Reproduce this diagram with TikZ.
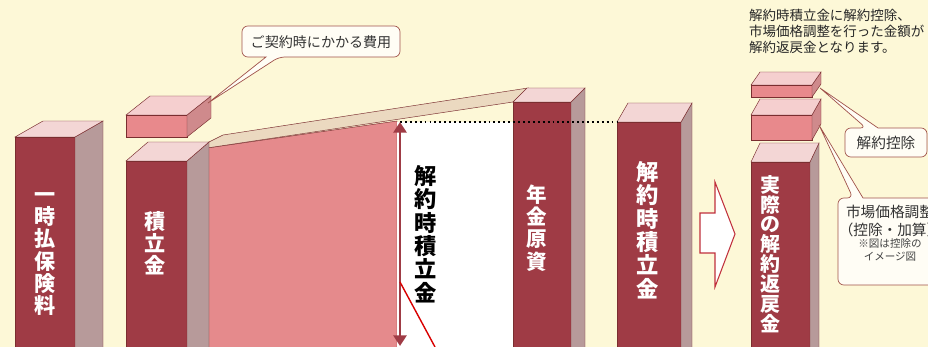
\documentclass[tikz,border=0pt]{standalone}
\usepackage{fontspec}
\setmainfont{Noto Sans CJK JP}
\usepackage{xcolor}
\usetikzlibrary{arrows.meta,positioning}
\definecolor{bgyellow}{RGB}{253,248,215}
\definecolor{darkred}{RGB}{159,59,69}
\definecolor{sidegray}{RGB}{183,154,154}
\definecolor{toppink}{RGB}{243,214,213}
\definecolor{edgebrown}{RGB}{122,46,48}
\definecolor{wedgepink}{RGB}{229,138,140}
\definecolor{bandtan}{RGB}{235,217,192}
\definecolor{blockpink}{RGB}{232,137,140}
\definecolor{blocktop}{RGB}{245,207,207}
\definecolor{blockside}{RGB}{207,138,140}
\definecolor{callbrown}{RGB}{160,82,74}
\definecolor{callfill}{RGB}{255,253,245}
\definecolor{arrowred}{RGB}{192,48,60}

\begin{document}
\begin{tikzpicture}[x=0.03cm,y=-0.03cm]
	\tikzstyle{edge}=[draw=edgebrown,line width=0.4pt]
	\tikzstyle{front}=[edge,fill=darkred]
	\tikzstyle{side}=[edge,fill=sidegray]
	\tikzstyle{topface}=[edge,fill=toppink]
	\tikzstyle{vlabel}=[align=center,inner sep=0pt,text=white]
	\tikzstyle{callout}=[draw=callbrown,fill=callfill,line width=0.6pt]
	
	\useasboundingbox (0,0) rectangle (928,347);
	\clip (0,0) rectangle (928,347);
	\fill[bgyellow] (0,0) rectangle (928,347);
	
	\filldraw[edge,fill=wedgepink] (187,160) -- (207,148) -- (397,121) -- (397,350) -- (187,350) -- cycle;
	\filldraw[edge,fill=bandtan] (187,160) -- (209,142) -- (223,135) -- (528,88) -- (513,102) -- (207,148) -- cycle;
	\fill[white] (397,122) rectangle (513,350);
	
	\foreach \px/\py/\w/\dx/\dy in {15/137/60/28/-16, 126/161/61/22/-19, 513/102/58/14/-14, 617/122/64/11/-19, 751/162/59/9/-19}{
		\filldraw[front] (\px,\py) rectangle (\px+\w,350);
		\filldraw[side] (\px+\w,\py) -- ++(\dx,\dy) -- (\px+\w+\dx,350) -- (\px+\w,350) -- cycle;
		\filldraw[topface] (\px,\py) -- ++(\dx,\dy) -- ++(\w,0) -- (\px+\w,\py) -- cycle;
	}
	
	\foreach \px/\py/\pb/\w/\dx/\dy in {126/115/137/61/24/-19, 751/85/97/61/9/-13, 751/115/140/61/9/-16}{
		\filldraw[edge,fill=blockpink] (\px,\py) rectangle (\px+\w,\pb);
		\filldraw[edge,fill=blockside] (\px+\w,\py) -- ++(\dx,\dy) -- (\px+\w+\dx,\pb+\dy) -- (\px+\w,\pb) -- cycle;
		\filldraw[edge,fill=blocktop] (\px,\py) -- ++(\dx,\dy) -- ++(\w,0) -- (\px+\w,\py) -- cycle;
	}
	
	\coordinate (lvl) at (400,122);
	\coordinate (lvlend) at (617,122);
	\coordinate (accbot) at (400,346);
	\draw[line width=1.5pt,dash pattern=on 1.6pt off 2.6pt] (lvl) -- (lvlend);
	\draw[darkred,line width=2.4pt,{Triangle[width=11pt,length=9pt]}-{Triangle[width=11pt,length=9pt]}] (lvl) -- (accbot);
	\draw[red!85!black,line width=1.2pt] (400,282) -- (435,347);
	
	\filldraw[draw=arrowred,fill=white,line width=0.9pt] (700,213) -- (715,213) -- (715,182) -- (735,234) -- (715,287) -- (715,253) -- (700,253) -- cycle;
	
	\node[vlabel,font=\bfseries\fontsize{18}{19}\selectfont] (premium) at (45,254) {一\\時\\払\\保\\険\\料};
	\node[vlabel,font=\bfseries\fontsize{18}{19}\selectfont] (reserve) at (155,243) {積\\立\\金};
	\node[vlabel,text=black,font=\bfseries\fontsize{19}{20}\selectfont] (cancelres) at (426,234) {解\\約\\時\\積\\立\\金};
	\node[vlabel,font=\bfseries\fontsize{17.5}{19}\selectfont] (pension) at (537,228) {年\\金\\原\\資};
	\node[vlabel,font=\bfseries\fontsize{19}{20}\selectfont] (cancelcol) at (648,230) {解\\約\\時\\積\\立\\金};
	\node[vlabel,font=\bfseries\fontsize{17}{17}\selectfont] (refund) at (770,254) {実\\際\\の\\解\\約\\返\\戻\\金};
	
	\node[anchor=west,align=left,text=black!85,font=\fontsize{11.5}{13.6}\selectfont] (note) at (745,31) {解約時積立金に解約控除、\\市場価格調整を行った金額が\\解約返戻金となります。};
	
	\coordinate (costtip) at (208,103);
	\draw[callout] (costtip) -- (266,57) [rounded corners=5pt] -- (242,57) -- (242,26) -- (400,26) -- (400,57) -- (279,57) [sharp corners] -- cycle;
	\node[text=black!80,font=\fontsize{12}{14}\selectfont] (costtext) at (321,42) {ご契約時にかかる費用};
	
	\coordinate (dedtip) at (820,88);
	\draw[callout] (dedtip) -- (878,128) [rounded corners=5pt] -- (927,128) -- (927,157) -- (845,157) -- (845,128) -- (866,128) [sharp corners] -- cycle;
	\node[text=black!80,font=\fontsize{12.5}{14}\selectfont] (dedtext) at (886,143) {解約控除};
	
	\coordinate (mkttip) at (819,125);
	\draw[callout] (mkttip) -- (863,198) [rounded corners=5pt] -- (945,198) -- (945,285) -- (838,285) -- (838,198) -- (853,198) [sharp corners] -- cycle;
	\node[align=center,text=black!80,font=\fontsize{12.5}{15.3}\selectfont] (mkttext) at (890,221) {市場価格調整\\（控除・加算）};
	\node[align=center,text=black!75,font=\fontsize{9}{11}\selectfont] (mktnote) at (890,250) {※図は控除の\\イメージ図};
\end{tikzpicture}
\end{document}
